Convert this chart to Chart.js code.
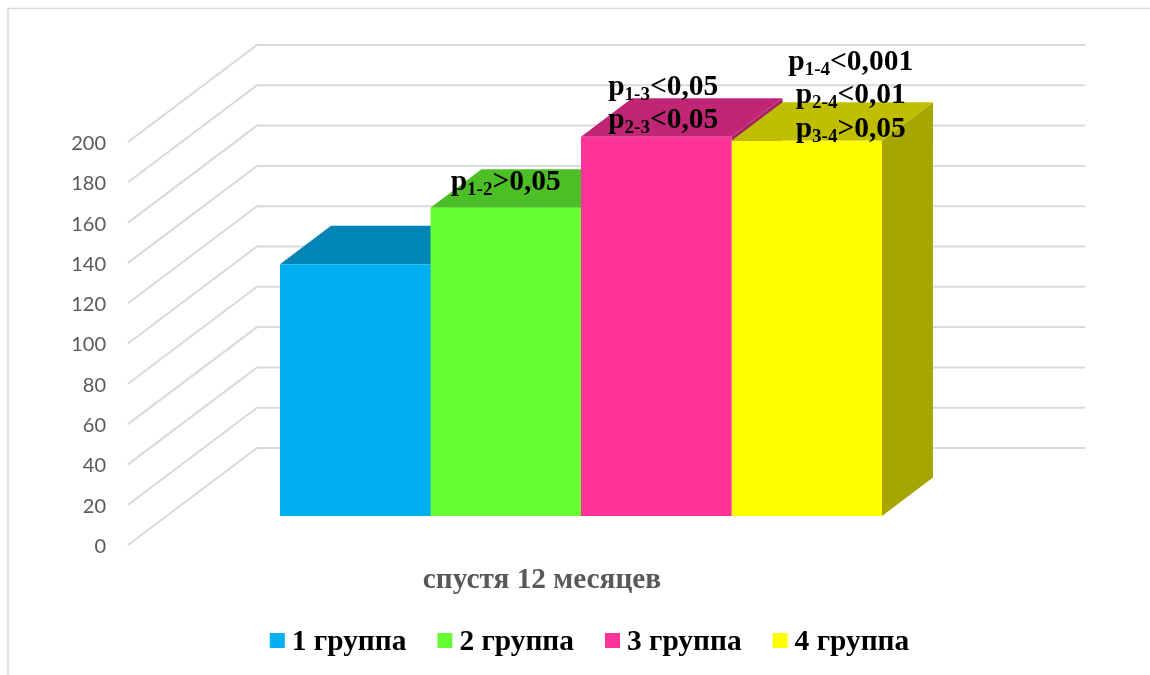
<!DOCTYPE html>
<html>
<head>
<meta charset="utf-8">
<title>Chart</title>
<script src="https://cdn.jsdelivr.net/npm/chart.js@4"></script>
<style>
  html, body { margin: 0; padding: 0; background: #fff; }
  #wrap { position: relative; width: 1150px; height: 675px; overflow: hidden; }
</style>
</head>
<body>
<div id="wrap"><canvas id="gra" width="1150" height="675"></canvas></div>
<script>
var categories = ['спустя 12 месяцев'];
var groupNames = ['1 группа', '2 группа', '3 группа', '4 группа'];
var groupValues = [125, 153, 188.2, 186.2];
var yTicks = [0, 20, 40, 60, 80, 100, 120, 140, 160, 180, 200];

// significance notes above each bar: [p, subscript, rest of the line]
var notes1 = [];
var notes2 = [['p', '1-2', '>0,05']];
var notes3 = [['p', '1-3', '<0,05'], ['p', '2-3', '<0,05']];
var notes4 = [['p', '1-4', '<0,001'], ['p', '2-4', '<0,01'], ['p', '3-4', '>0,05']];

var frontColors = ['#00B0F0', '#66FF33', '#FF3399', '#FFFF00'];
var topColors = ['#0085B4', '#4DBF26', '#C02673', '#BFBF00'];
var sideColors = ['#00739C', '#42A621', '#A62163', '#A6A600'];

// fake 3d: the wall sits behind the axis plane, the bars stand between the two
var WALL_DX = 129, WALL_DY = -97;
var BAR_DX = 39, BAR_DY = -29;
var DEPTH_DX = 51, DEPTH_DY = -38.5;
var SERIF = '"Liberation Serif", serif';

function poly(ctx, color, pts) {
  ctx.fillStyle = color;
  ctx.beginPath();
  pts.forEach(function (p, i) { i ? ctx.lineTo(p[0], p[1]) : ctx.moveTo(p[0], p[1]); });
  ctx.closePath();
  ctx.fill();
}

var fake3d = {
  id: 'fake3d',
  beforeDatasetsDraw: function (chart) {
    var ctx = chart.ctx, y = chart.scales.y, area = chart.chartArea;

    // frame around the chart
    ctx.save();
    ctx.strokeStyle = '#D9D9D9';
    ctx.lineWidth = 1.5;
    ctx.beginPath();
    ctx.moveTo(8, 675);
    ctx.lineTo(8, 8.5);
    ctx.lineTo(1150, 8.5);
    ctx.stroke();

    // grid: diagonal on the left wall, then flat along the back wall
    ctx.lineWidth = 2;
    yTicks.forEach(function (t) {
      var py = y.getPixelForValue(t);
      ctx.beginPath();
      ctx.moveTo(area.left, py);
      ctx.lineTo(area.left + WALL_DX, py + WALL_DY);
      ctx.lineTo(area.right + WALL_DX, py + WALL_DY);
      ctx.stroke();
    });

    // tops and sides, left to right so the next bar covers the previous one
    chart.data.datasets.forEach(function (ds, i) {
      var bar = chart.getDatasetMeta(i).data[0];
      var half = bar.width / 2;
      var l = bar.x - half + BAR_DX, r = bar.x + half + BAR_DX;
      var t = bar.y + BAR_DY, b = bar.base + BAR_DY;
      poly(ctx, sideColors[i], [[r, t], [r + DEPTH_DX, t + DEPTH_DY], [r + DEPTH_DX, b + DEPTH_DY], [r, b]]);
      poly(ctx, topColors[i], [[l, t], [l + DEPTH_DX, t + DEPTH_DY], [r + DEPTH_DX, t + DEPTH_DY], [r, t]]);
    });
    ctx.restore();

    // front faces are drawn by the bar controller, shifted into the bar plane
    ctx.save();
    ctx.translate(BAR_DX, BAR_DY);
  },
  afterDatasetsDraw: function (chart) {
    chart.ctx.restore();
  },
  afterDraw: function (chart) {
    drawNotes(chart);
    drawLegend(chart);
  }
};

function drawNotes(chart) {
  var ctx = chart.ctx;
  var all = [notes1, notes2, notes3, notes4];
  var shiftX = [0, 0, 7, 44];
  var first = [0, -18, -42, -71];
  ctx.save();
  ctx.fillStyle = '#000';
  ctx.textBaseline = 'alphabetic';
  all.forEach(function (lines, i) {
    var bar = chart.getDatasetMeta(i).data[0];
    lines.forEach(function (ln, j) {
      var big = 'bold 29.5px ' + SERIF, small = 'bold 19px ' + SERIF;
      ctx.font = big;
      var w1 = ctx.measureText(ln[0]).width, w3 = ctx.measureText(ln[2]).width;
      ctx.font = small;
      var w2 = ctx.measureText(ln[1]).width;
      var x = bar.x + BAR_DX + shiftX[i] - (w1 + w2 + w3) / 2;
      var base = bar.y + BAR_DY + first[i] + j * 33.5;
      ctx.font = big;
      ctx.fillText(ln[0], x, base);
      ctx.fillText(ln[2], x + w1 + w2, base);
      ctx.font = small;
      ctx.fillText(ln[1], x + w1, base + 5);
    });
  });
  ctx.restore();
}

function drawLegend(chart) {
  var ctx = chart.ctx;
  var box = 15, gap = 7, pad = 31, cy = 641;
  ctx.save();
  ctx.font = 'bold 29.4px ' + SERIF;
  ctx.textBaseline = 'middle';
  var total = 0;
  chart.data.datasets.forEach(function (ds) {
    total += box + gap + ctx.measureText(ds.label).width + pad;
  });
  var x = 589.5 - (total - pad) / 2;
  chart.data.datasets.forEach(function (ds, i) {
    ctx.fillStyle = frontColors[i];
    ctx.fillRect(x, cy - 8, box, box);
    ctx.fillStyle = '#000';
    ctx.fillText(ds.label, x + box + gap, cy + 1);
    x += box + gap + ctx.measureText(ds.label).width + pad;
  });
  ctx.restore();
}

var ctx_gra = document.getElementById('gra');
var gra = new Chart(ctx_gra, {
  type: 'bar',
  data: {
    labels: categories,
    datasets: groupNames.map(function (name, i) {
      return {
        label: name,
        data: [groupValues[i]],
        backgroundColor: frontColors[i],
        borderWidth: 0,
        clip: false,
        categoryPercentage: 0.727,
        barPercentage: 1
      };
    })
  },
  options: {
    responsive: false,
    animation: false,
    layout: { padding: { left: 0, top: 142, right: 194, bottom: 79 } },
    plugins: {
      legend: { display: false },
      tooltip: { enabled: false }
    },
    scales: {
      x: {
        afterFit: function (scale) { scale.height = 51; },
        grid: { display: false, drawTicks: false },
        border: { display: false },
        ticks: {
          color: '#595959',
          padding: 18,
          maxRotation: 0,
          font: { family: SERIF, size: 29.3, weight: 'bold' }
        }
      },
      y: {
        min: 0,
        max: 200,
        afterFit: function (scale) { scale.width = 128; },
        afterBuildTicks: function (scale) {
          scale.ticks = yTicks.map(function (v) { return { value: v }; });
        },
        grid: { display: false, drawTicks: false },
        border: { display: false },
        ticks: {
          color: '#595959',
          padding: 22,
          labelOffset: 1.5,
          font: { family: 'Lato', size: 20 }
        }
      }
    }
  },
  plugins: [fake3d]
});
</script>
</body>
</html>
